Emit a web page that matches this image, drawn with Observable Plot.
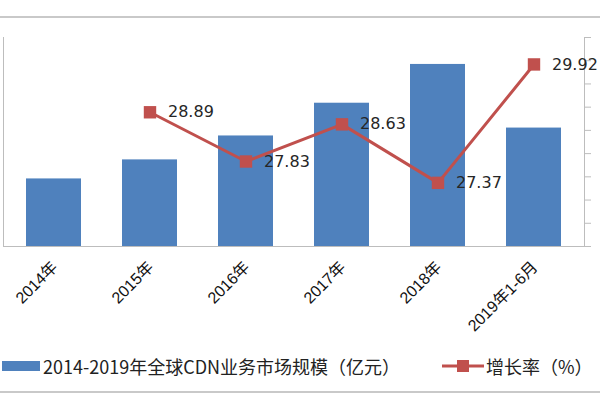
<!DOCTYPE html>
<html>
<head>
<meta charset="utf-8">
<script src="https://cdn.jsdelivr.net/npm/d3@7"></script>
<script src="https://cdn.jsdelivr.net/npm/@observablehq/plot@0.6"></script>
<style>
  body { margin: 0; background: #fff; font-family: "Noto Sans CJK SC", sans-serif; }
  #wrap { width: 600px; position: relative; }
  #topline { height: 16px; border-bottom: 2px solid #c9c9c9; }
  #legend { position: relative; height: 46px; border-bottom: 2px solid #c9c9c9; font-size: 18px; color: #222; }
  .item { position: absolute; top: 8px; display: flex; align-items: center; white-space: nowrap; line-height: 26px; }
</style>
</head>
<body>
<div id="wrap">
  <div id="topline"></div>
  <div id="chart"></div>
  <div id="legend">
    <div class="item" style="left:2px">
      <span style="display:inline-block;width:38px;height:10px;background:#4F81BD;margin-right:3px"></span>
      <span id="lg1"></span>
    </div>
    <div class="item" style="left:442px">
      <svg width="42" height="14" style="margin-right:2px"><line x1="0" y1="7" x2="42" y2="7" stroke="#C0504D" stroke-width="3"/><rect x="15" y="1" width="12" height="12" fill="#C0504D"/></svg>
      <span id="lg2"></span>
    </div>
  </div>
</div>
<script>
const categories = ["2014年", "2015年", "2016年", "2017年", "2018年", "2019年1-6月"];
const marketSize = [291, 373, 476, 617, 784, 510];
const growthRate = [null, 28.89, 27.83, 28.63, 27.37, 29.92];
const rightTicks = [26, 26.5, 27, 27.5, 28, 28.5, 29, 29.5, 30, 30.5];
const leftMax = 900;
const rightMin = 26, rightMax = 30.5;
const seriesNames = ["2014-2019年全球CDN业务市场规模（亿元）", "增长率（%）"];

document.getElementById("lg1").textContent = seriesNames[0];
document.getElementById("lg2").textContent = seriesNames[1];

const toLeft = v => (v - rightMin) / (rightMax - rightMin) * leftMax;

const bars = categories.map((c, i) => ({cat: c, value: marketSize[i]}));
const rates = categories.map((c, i) => ({cat: c, rate: growthRate[i]})).filter(d => d.rate != null);

const chart = Plot.plot({
  width: 600,
  height: 327,
  marginTop: 19,
  marginBottom: 99,
  marginLeft: 3,
  marginRight: 16,
  style: {fontFamily: "'Liberation Sans', 'Noto Sans CJK SC', sans-serif", background: "transparent"},
  x: {domain: categories, paddingInner: 0.43, paddingOuter: 0.215},
  y: {domain: [0, leftMax]},
  marks: [
    Plot.barY(bars, {x: "cat", y: "value", fill: "#4F81BD"}),
    Plot.frame({anchor: "left", stroke: "#bdbdbd"}),
    Plot.frame({anchor: "right", stroke: "#bdbdbd"}),
    Plot.frame({anchor: "bottom", stroke: "#bdbdbd"}),
    Plot.axisY({anchor: "left", ticks: [], label: null}),
    Plot.axisY({anchor: "right", ticks: rightTicks.map(toLeft), tickFormat: () => "", tickSize: 6, stroke: "#bdbdbd", label: null}),
    Plot.axisX({tickRotate: -45, tickSize: 0, tickPadding: 18, fontSize: 16, fill: "#111", label: null, dx: 1}),
    Plot.line(rates, {x: "cat", y: d => toLeft(d.rate), stroke: "#C0504D", strokeWidth: 3}),
    Plot.dot(rates, {x: "cat", y: d => toLeft(d.rate), symbol: "square", r: 7, fill: "#C0504D"}),
    Plot.text(rates, {x: "cat", y: d => toLeft(d.rate), text: d => d.rate.toFixed(2), dx: 18, textAnchor: "start", fontSize: 16, fill: "#262626", fontFamily: "'DejaVu Sans', sans-serif"})
  ]
});
document.getElementById("chart").appendChild(chart);
</script>
</body>
</html>
